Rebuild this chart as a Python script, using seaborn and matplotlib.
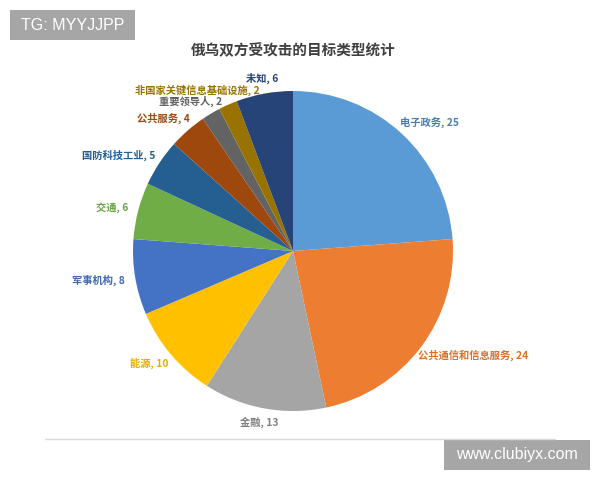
import matplotlib
matplotlib.use("Agg")
import matplotlib.pyplot as plt
import seaborn as sns
from matplotlib.patches import Rectangle

sns.set_theme(style="white")
plt.rcParams['font.family'] = ['Noto Sans CJK SC', 'DejaVu Sans']

# ---- data ----
categories = ["电子政务", "公共通信和信息服务", "金融", "能源", "军事机构", "交通",
              "国防科技工业", "公共服务", "重要领导人", "非国家关键信息基础设施", "未知"]
values = [25, 24, 13, 10, 8, 6, 5, 4, 2, 2, 6]
title = "俄乌双方受攻击的目标类型统计"

# ---- styles ----
slice_colors = ["#5B9BD5", "#ED7D31", "#A5A5A5", "#FFC000", "#4472C4", "#70AD47",
                "#255E91", "#9E480E", "#636363", "#997300", "#264478"]
label_colors = ["#4A7EB0", "#D9702A", "#7F7F7F", "#E6AC00", "#3F67B0", "#6AA342",
                "#255E91", "#9E480E", "#636363", "#997300", "#264478"]
# label anchor positions in pixels (x, y from top), alignment
label_pos = [(400, 122, 'left'), (418, 355, 'left'), (259, 422, 'center'),
             (168, 363, 'right'), (125, 280, 'right'), (128, 208, 'right'),
             (155, 155, 'right'), (190, 118, 'right'), (222, 101, 'right'),
             (260, 90, 'right'), (278, 78, 'right')]

W, H = 600, 480
fig = plt.figure(figsize=(6, 4.8), dpi=100)
ax = fig.add_axes([0, 0, 1, 1])

def py(y):
    return H - y

palette = sns.color_palette(slice_colors)
ax.pie(values, colors=palette, startangle=90, counterclock=False,
       center=(293, py(251)), radius=160, frame=True,
       wedgeprops=dict(linewidth=0))
ax.set_xlim(0, W)
ax.set_ylim(0, H)
ax.axis('off')

for cat, v, (x, y, ha), c in zip(categories, values, label_pos, label_colors):
    ax.text(x, py(y), f"{cat}, {v}", ha=ha, va='center', fontsize=7.4,
            fontweight='bold', color=c)

ax.text(293, py(50), title, ha='center', va='center', fontsize=10.5,
        fontweight='bold', color='#404040')

# frame line
ax.plot([45, 555], [py(439), py(439)], color='#d9d9d9', linewidth=1)

# watermark boxes
ax.add_patch(Rectangle((10, py(40)), 125, 30, facecolor='#a6a6a6', edgecolor='none'))
ax.text(72.5, py(25), "TG: MYYJJPP", ha='center', va='center', fontsize=11.5,
        color='white', family=['Liberation Sans', 'DejaVu Sans'])
ax.add_patch(Rectangle((444, py(470)), 146, 30, facecolor='#a6a6a6', edgecolor='none'))
ax.text(517, py(455), "www.clubiyx.com", ha='center', va='center', fontsize=11.5,
        color='white', family=['Liberation Sans', 'DejaVu Sans'])

fig.savefig("out.png", dpi=100)
